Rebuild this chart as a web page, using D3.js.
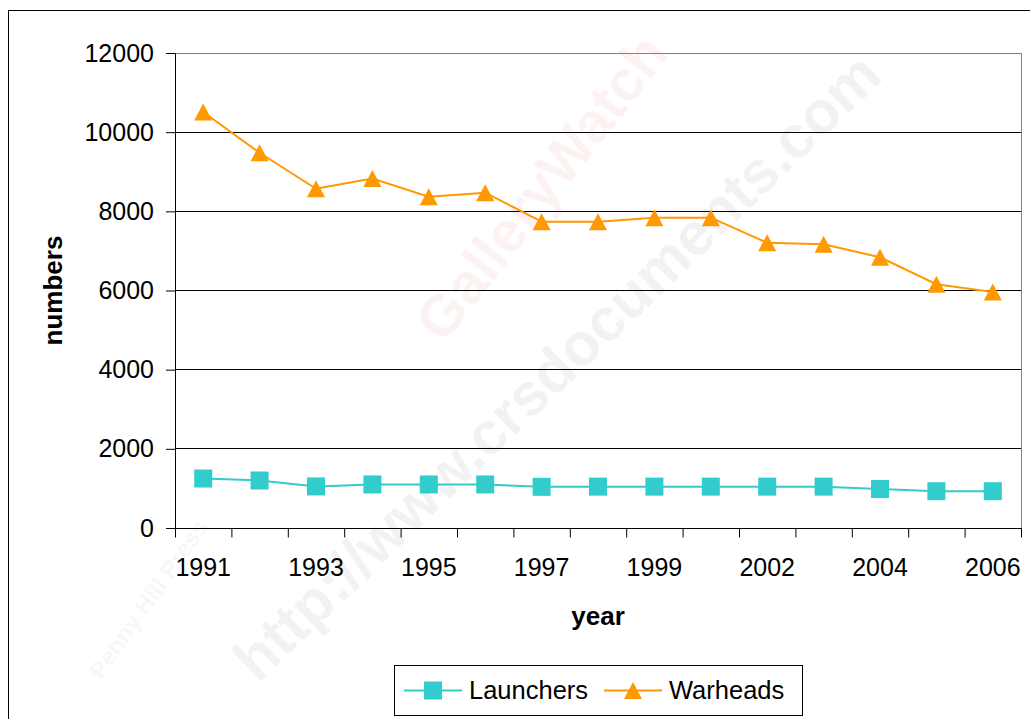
<!DOCTYPE html>
<html>
<head>
<meta charset="utf-8">
<title>Launchers and Warheads</title>
<script src="https://cdnjs.cloudflare.com/ajax/libs/d3/7.8.5/d3.min.js"></script>
<style>
  body { margin: 0; background: #fff; }
  svg text { font-family: "Liberation Sans", Arial, sans-serif; }
</style>
</head>
<body>
<svg></svg>
<script>
// data
var years = ["1991","1992","1993","1994","1995","1996","1997","1998","1999","2000","2002","2003","2004","2005","2006"];
var tickLabels = ["1991","1993","1995","1997","1999","2002","2004","2006"];
var launchers = [1250,1200,1050,1100,1100,1100,1040,1045,1045,1045,1045,1045,985,930,930];
var warheads = [10510,9480,8570,8830,8370,8470,7740,7740,7840,7840,7205,7170,6840,6160,5960];
var yTicks = [0,2000,4000,6000,8000,10000,12000];
var seriesNames = ["Launchers","Warheads"];
var seriesColors = ["#33cccc","#ff9900"];

var w = 1030, h = 719;
var svg = d3.select("svg").attr("width", w).attr("height", h);

var plot = {left: 175, right: 1021, top: 53, bottom: 528};

var x = d3.scaleBand().domain(years).range([plot.left, plot.right]);
var y = d3.scaleLinear().domain([0, 12000]).range([plot.bottom, plot.top]);
var cx = function(i) { return x(years[i]) + x.bandwidth() / 2; };

svg.append("rect").attr("width", w).attr("height", h).attr("fill", "#fff");

// faint watermarks, kept inside the picture
var wm = svg.append("g").attr("pointer-events", "none");
wm.append("text")
  .attr("transform", "translate(560,370) rotate(-44)")
  .attr("text-anchor", "middle").attr("dominant-baseline", "middle")
  .attr("font-size", 60).attr("font-weight", "bold")
  .attr("fill", "#000").attr("fill-opacity", 0.05)
  .text("http://www.crsdocuments.com");
wm.append("text")
  .attr("transform", "translate(545,190) rotate(-52)")
  .attr("text-anchor", "middle").attr("dominant-baseline", "middle")
  .attr("font-size", 58).attr("font-weight", "bold")
  .attr("fill", "#d00000").attr("fill-opacity", 0.05)
  .text("GalleryWatch");
wm.append("text")
  .attr("transform", "translate(150,600) rotate(-55)")
  .attr("text-anchor", "middle").attr("dominant-baseline", "middle")
  .attr("font-size", 24).attr("font-weight", "bold")
  .attr("fill", "#000").attr("fill-opacity", 0.05)
  .text("Penny Hill Press");

// chart area border (runs off the right and bottom)
svg.append("rect")
  .attr("x", 8.5).attr("y", 10.5)
  .attr("width", 1100).attr("height", 800)
  .attr("fill", "none").attr("stroke", "#000");

// plot area border
svg.append("rect")
  .attr("x", plot.left + 0.5).attr("y", plot.top + 0.5)
  .attr("width", plot.right - plot.left).attr("height", plot.bottom - plot.top)
  .attr("fill", "none").attr("stroke", "#808080");

// gridlines
svg.append("g").selectAll("line")
  .data(yTicks.filter(function(d) { return d > 0 && d < 12000; }))
  .enter().append("line")
  .attr("x1", plot.left).attr("x2", plot.right)
  .attr("y1", function(d) { return Math.floor(y(d)) + 0.5; })
  .attr("y2", function(d) { return Math.floor(y(d)) + 0.5; })
  .attr("stroke", "#000");

// y axis
var yAxis = svg.append("g")
  .attr("transform", "translate(" + plot.left + ",0)")
  .call(d3.axisLeft(y).tickValues(yTicks).tickSize(9).tickSizeOuter(0)
    .tickPadding(12).tickFormat(d3.format("d")));
yAxis.selectAll("text").attr("font-size", 25).attr("fill", "#000")
  .style("font-family", '"Liberation Sans", Arial, sans-serif');
yAxis.selectAll("line, path").attr("stroke", "#000");

// x axis, labels on every other category
var xAxis = svg.append("g")
  .attr("transform", "translate(0," + plot.bottom + ")")
  .call(d3.axisBottom(x).tickValues(tickLabels).tickSize(0).tickSizeOuter(0).tickPadding(30));
xAxis.selectAll("text").attr("font-size", 25).attr("fill", "#000")
  .style("font-family", '"Liberation Sans", Arial, sans-serif');
xAxis.select("path").attr("stroke", "#000");

// tick marks between categories
svg.append("g").selectAll("line")
  .data(years.concat(["end"]))
  .enter().append("line")
  .attr("x1", function(d) { return d === "end" ? plot.right + 0.5 : x(d) + 0.5; })
  .attr("x2", function(d) { return d === "end" ? plot.right + 0.5 : x(d) + 0.5; })
  .attr("y1", plot.bottom + 0.5).attr("y2", plot.bottom + 9.5)
  .attr("stroke", "#000");

// axis titles
svg.append("text")
  .attr("transform", "translate(62," + (plot.top + plot.bottom) / 2 + ") rotate(-90)")
  .attr("text-anchor", "middle")
  .attr("font-size", 26).attr("font-weight", "bold")
  .text("numbers");

svg.append("text")
  .attr("x", (plot.left + plot.right) / 2).attr("y", 625)
  .attr("text-anchor", "middle")
  .attr("font-size", 26).attr("font-weight", "bold")
  .text("year");

var tri = "M0,-8.5L9,8.5L-9,8.5Z";

function drawSeries(values, color, marker) {
  var line = d3.line()
    .x(function(d, i) { return cx(i); })
    .y(function(d) { return y(d); });
  svg.append("path").datum(values)
    .attr("d", line)
    .attr("fill", "none").attr("stroke", color).attr("stroke-width", 2);
  var g = svg.append("g");
  if (marker === "square") {
    g.selectAll("rect").data(values).enter().append("rect")
      .attr("x", function(d, i) { return cx(i) - 9; })
      .attr("y", function(d) { return y(d) - 9; })
      .attr("width", 18).attr("height", 18)
      .attr("fill", color);
  } else {
    g.selectAll("path").data(values).enter().append("path")
      .attr("d", tri)
      .attr("transform", function(d, i) { return "translate(" + cx(i) + "," + y(d) + ")"; })
      .attr("fill", color);
  }
}

drawSeries(launchers, seriesColors[0], "square");
drawSeries(warheads, seriesColors[1], "triangle");

// legend
var legend = svg.append("g").attr("transform", "translate(394,665)");
legend.append("rect")
  .attr("x", 0.5).attr("y", 0.5).attr("width", 408).attr("height", 50)
  .attr("fill", "#fff").attr("stroke", "#000");
var items = legend.selectAll("g.item").data(seriesNames).enter().append("g")
  .attr("class", "item")
  .attr("transform", function(d, i) { return "translate(" + (10 + i * 200) + ",0)"; });
items.append("line")
  .attr("x1", 0).attr("x2", 58).attr("y1", 25.5).attr("y2", 25.5)
  .attr("stroke", function(d, i) { return seriesColors[i]; }).attr("stroke-width", 2);
items.each(function(d, i) {
  var it = d3.select(this);
  if (i === 0) {
    it.append("rect").attr("x", 20).attr("y", 16.5).attr("width", 18).attr("height", 18)
      .attr("fill", seriesColors[0]);
  } else {
    it.append("path").attr("d", tri).attr("transform", "translate(29,25.5)")
      .attr("fill", seriesColors[1]);
  }
});
items.append("text")
  .attr("x", 65).attr("y", 34)
  .attr("font-size", 25.5)
  .text(function(d) { return d; });
</script>
</body>
</html>
